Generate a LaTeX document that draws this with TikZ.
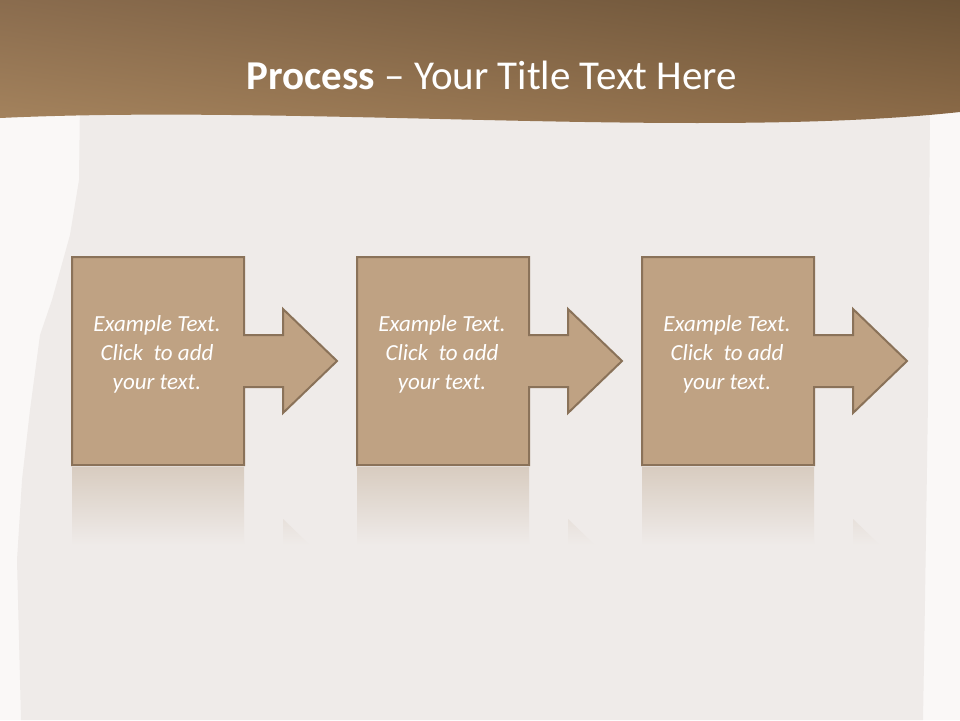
\documentclass[tikz,border=0pt]{standalone}
\usepackage{fontspec}
\setmainfont{Carlito}
\usetikzlibrary{shadings}
\definecolor{outerbg}{HTML}{FAF8F7}
\definecolor{paper}{HTML}{EFEBE9}
\definecolor{boxfill}{HTML}{BFA283}
\definecolor{boxline}{HTML}{8A7259}
\definecolor{reflect}{HTML}{D8CCC0}
\definecolor{bandUL}{HTML}{8A6C4E}
\definecolor{bandUR}{HTML}{6C5337}
\definecolor{bandLL}{HTML}{A8865F}
\definecolor{bandLR}{HTML}{906E4A}
\tikzset{
  procshape/.style={fill=boxfill, draw=boxline, line width=2pt, line join=miter},
  steptext/.style={text=white, font=\fontsize{23}{29}\selectfont\itshape, align=center, inner sep=0pt},
  titletext/.style={text=white, font=\fontsize{41}{46}\selectfont, inner sep=0pt}
}
\newcommand{\procpath}{(72,257) -- (244,257) -- (244,335) -- (283,335) -- (283,309) -- (337,361) -- (283,413) -- (283,387) -- (244,387) -- (244,465) -- (72,465) -- cycle}
\newcommand{\reflpath}{(72,467) -- (244,467) -- (244,545) -- (283,545) -- (283,519) -- (337,571) -- (283,623) -- (283,597) -- (244,597) -- (244,675) -- (72,675) -- cycle}
\begin{document}
\begin{tikzpicture}[x=1pt,y=-1pt]
\useasboundingbox (0,0) rectangle (960,720);
% background
\fill[outerbg] (0,0) rectangle (960,720);
% paper sheet
\fill[paper] (80,100) -- (79,180) -- (70,235) -- (52,300) -- (40,335) -- (30,410) -- (22,480) -- (17,560) -- (19,640) -- (21,720) -- (923,720) -- (925,600) -- (928,400) -- (930,100) -- cycle;
% header band
\shade[upper left=bandUL, upper right=bandUR, lower left=bandLL, lower right=bandLR]
  (0,0) -- (960,0) -- (960,112) .. controls (700,140) and (300,104) .. (0,118) -- cycle;
\node[titletext] (title) at (492,75) {\textbf{Process} – Your Title Text Here};
% process steps
\foreach \dx/\n in {0/1,285/2,570/3}{
  \begin{scope}[xshift=\dx]
    \begin{scope}
      \clip \reflpath;
      \shade[top color=reflect, bottom color=paper] (60,467) rectangle (345,545);
    \end{scope}
    \draw[procshape] \procpath;
    \node[steptext] (t\n) at (157,354) {Example Text.\\Click\ \ to add\\your text.};
  \end{scope}
}
\end{tikzpicture}
\end{document}
